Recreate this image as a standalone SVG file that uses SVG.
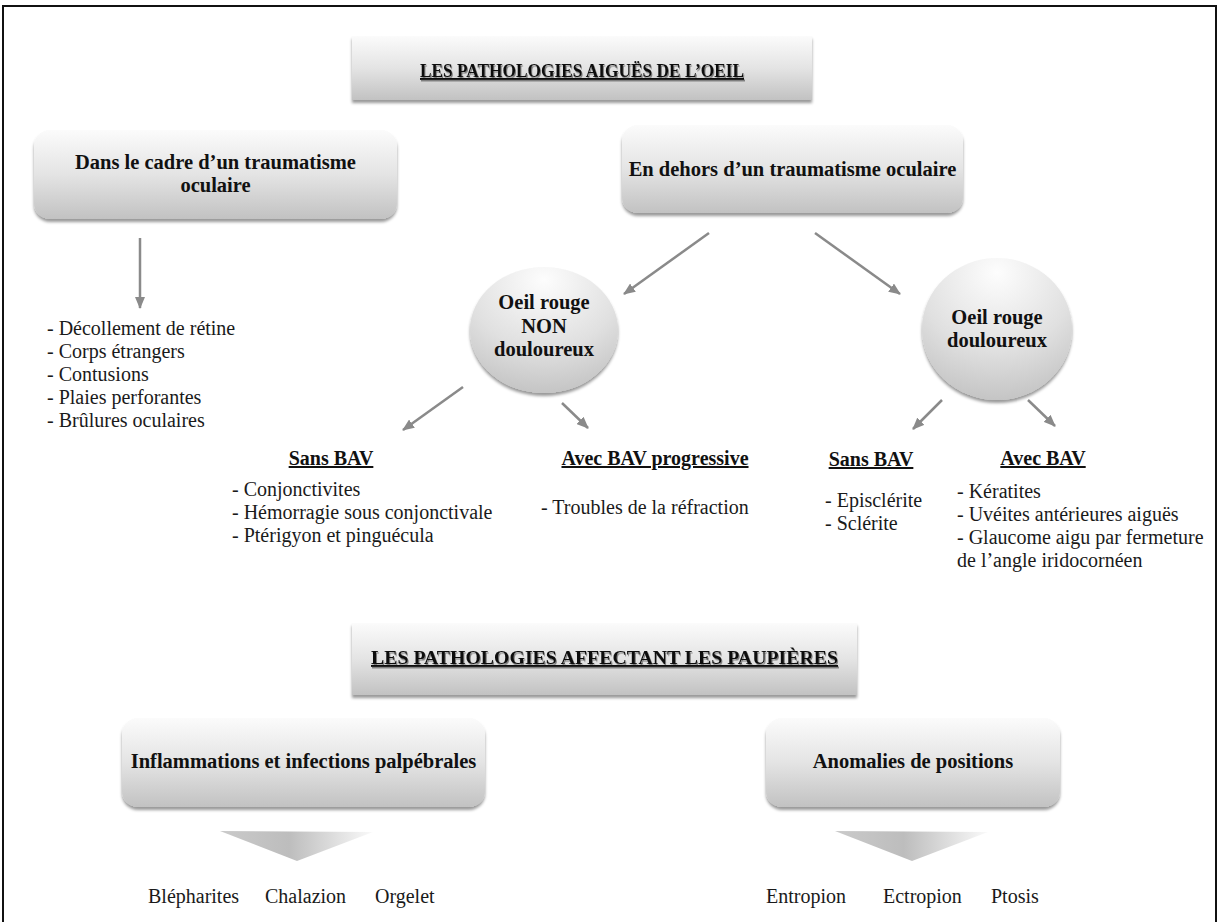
<svg xmlns="http://www.w3.org/2000/svg" width="1218" height="922" viewBox="0 0 1218 922">
  <defs>
    <linearGradient id="boxGrad" x1="0" y1="0" x2="0" y2="1">
      <stop offset="0" stop-color="#fbfbfb"/>
      <stop offset="0.5" stop-color="#e4e4e4"/>
      <stop offset="1" stop-color="#c2c2c2"/>
    </linearGradient>
    <radialGradient id="circGrad" cx="0.5" cy="0.15" r="0.95" fx="0.5" fy="0.1">
      <stop offset="0" stop-color="#fdfdfd"/>
      <stop offset="0.55" stop-color="#e0e0e0"/>
      <stop offset="1" stop-color="#bdbdbd"/>
    </radialGradient>
    <linearGradient id="chevGrad" x1="0" y1="0" x2="1" y2="0">
      <stop offset="0" stop-color="#cacaca"/>
      <stop offset="0.45" stop-color="#bdbdbd"/>
      <stop offset="1" stop-color="#fafafa"/>
    </linearGradient>
    <filter id="shadow" x="-10%" y="-10%" width="120%" height="130%">
      <feDropShadow dx="0" dy="3" stdDeviation="1.6" flood-color="#000" flood-opacity="0.4"/>
    </filter>
    <filter id="tshadow" x="-5%" y="-20%" width="110%" height="150%">
      <feDropShadow dx="1" dy="1.5" stdDeviation="0.6" flood-color="#555" flood-opacity="0.7"/>
    </filter>
    <marker id="ah" markerWidth="12" markerHeight="10" refX="11" refY="5" orient="auto" markerUnits="userSpaceOnUse">
      <path d="M0,0 L12,5 L0,10 Z" fill="#8a8a8a"/>
    </marker>
    <style>
      .box { fill: url(#boxGrad); filter: url(#shadow); }
      .circ { fill: url(#circGrad); filter: url(#shadow); }
      .chev { fill: url(#chevGrad); }
      .title { font-family: "Liberation Serif", "Times New Roman", serif; font-weight: bold; font-size: 19px; fill: #111; text-decoration: underline; text-anchor: middle; filter: url(#tshadow); }
      .head { font-family: "Liberation Serif", "Times New Roman", serif; font-weight: bold; font-size: 20.5px; fill: #111; text-anchor: middle; }
      .sub { font-family: "Liberation Serif", "Times New Roman", serif; font-weight: bold; font-size: 20px; fill: #111; text-anchor: middle; text-decoration: underline; }
      .list { font-family: "Liberation Serif", "Times New Roman", serif; font-size: 20px; fill: #1a1a1a; }
      .conn line { stroke: #8a8a8a; stroke-width: 2.5; marker-end: url(#ah); }
    </style>
  </defs>

  <rect width="1218" height="922" fill="#ffffff"/>
  <g id="frame" stroke="#111" stroke-width="2" fill="none">
    <path d="M3,922 L3,6 L1216,6 L1216,922"/>
  </g>

  <g id="title-aigues">
    <rect class="box" x="352" y="36" width="460" height="64"/>
    <text class="title" x="582" y="77" textLength="324" lengthAdjust="spacingAndGlyphs">LES PATHOLOGIES AIGUËS DE L’OEIL</text>
  </g>

  <g id="node-trauma">
    <rect class="box" x="34" y="130" width="363" height="89" rx="16"/>
    <text class="head" x="215.5" y="169">Dans le cadre d’un traumatisme</text>
    <text class="head" x="215.5" y="192">oculaire</text>
  </g>

  <g id="node-hors">
    <rect class="box" x="622" y="125" width="341" height="88" rx="16"/>
    <text class="head" x="792.5" y="176">En dehors d’un traumatisme oculaire</text>
  </g>

  <g id="list-trauma">
    <text class="list" x="47" y="335">- Décollement de rétine</text>
    <text class="list" x="47" y="358">- Corps étrangers</text>
    <text class="list" x="47" y="381">- Contusions</text>
    <text class="list" x="47" y="404">- Plaies perforantes</text>
    <text class="list" x="47" y="427">- Brûlures oculaires</text>
  </g>

  <g id="node-non-douloureux">
    <ellipse class="circ" cx="544" cy="330" rx="74" ry="63"/>
    <text class="head" x="544" y="309">Oeil rouge</text>
    <text class="head" x="544" y="333">NON</text>
    <text class="head" x="544" y="356">douloureux</text>
  </g>

  <g id="node-douloureux">
    <ellipse class="circ" cx="997" cy="329" rx="75" ry="71"/>
    <text class="head" x="997" y="324">Oeil rouge</text>
    <text class="head" x="997" y="347">douloureux</text>
  </g>

  <g id="group-sans-bav-1">
    <text class="sub" x="331" y="465">Sans BAV</text>
    <text class="list" x="232" y="496">- Conjonctivites</text>
    <text class="list" x="232" y="519">- Hémorragie sous conjonctivale</text>
    <text class="list" x="232" y="542">- Ptérigyon et pinguécula</text>
  </g>

  <g id="group-avec-bav-prog">
    <text class="sub" x="655" y="465">Avec BAV progressive</text>
    <text class="list" x="541" y="514">- Troubles de la réfraction</text>
  </g>

  <g id="group-sans-bav-2">
    <text class="sub" x="871" y="466">Sans BAV</text>
    <text class="list" x="825" y="507">- Episclérite</text>
    <text class="list" x="825" y="530">- Sclérite</text>
  </g>

  <g id="group-avec-bav">
    <text class="sub" x="1043" y="465">Avec BAV</text>
    <text class="list" x="957" y="498">- Kératites</text>
    <text class="list" x="957" y="521">- Uvéites antérieures aiguës</text>
    <text class="list" x="957" y="544">- Glaucome aigu par fermeture</text>
    <text class="list" x="957" y="567">de l’angle iridocornéen</text>
  </g>

  <g id="title-paupieres">
    <rect class="box" x="352" y="623" width="505" height="72"/>
    <text class="title" x="604.5" y="664" textLength="467" lengthAdjust="spacingAndGlyphs">LES PATHOLOGIES AFFECTANT LES PAUPIÈRES</text>
  </g>

  <g id="node-inflammations">
    <rect class="box" x="122" y="718" width="363" height="89" rx="16"/>
    <text class="head" x="303.5" y="768">Inflammations et infections palpébrales</text>
  </g>

  <g id="node-anomalies">
    <rect class="box" x="766" y="718" width="294" height="89" rx="16"/>
    <text class="head" x="913" y="768">Anomalies de positions</text>
  </g>

  <g id="chevron-inflammations">
    <polygon class="chev" points="220,831 373,832 297,861"/>
  </g>
  <g id="chevron-anomalies">
    <polygon class="chev" points="835,831 988,832 912,861"/>
  </g>

  <g id="items-inflammations">
    <text class="list" x="148" y="903">Blépharites</text>
    <text class="list" x="265" y="903">Chalazion</text>
    <text class="list" x="375" y="903">Orgelet</text>
  </g>

  <g id="items-anomalies">
    <text class="list" x="766" y="903">Entropion</text>
    <text class="list" x="883" y="903">Ectropion</text>
    <text class="list" x="991" y="903">Ptosis</text>
  </g>

  <g id="connectors" class="conn">
    <line x1="140" y1="238" x2="140" y2="308"/>
    <line x1="709" y1="233" x2="624" y2="294"/>
    <line x1="815" y1="233" x2="900" y2="294"/>
    <line x1="463" y1="387" x2="403" y2="430"/>
    <line x1="562" y1="403" x2="588" y2="428"/>
    <line x1="942" y1="400" x2="913" y2="429"/>
    <line x1="1028" y1="400" x2="1055" y2="426"/>
  </g>
</svg>
